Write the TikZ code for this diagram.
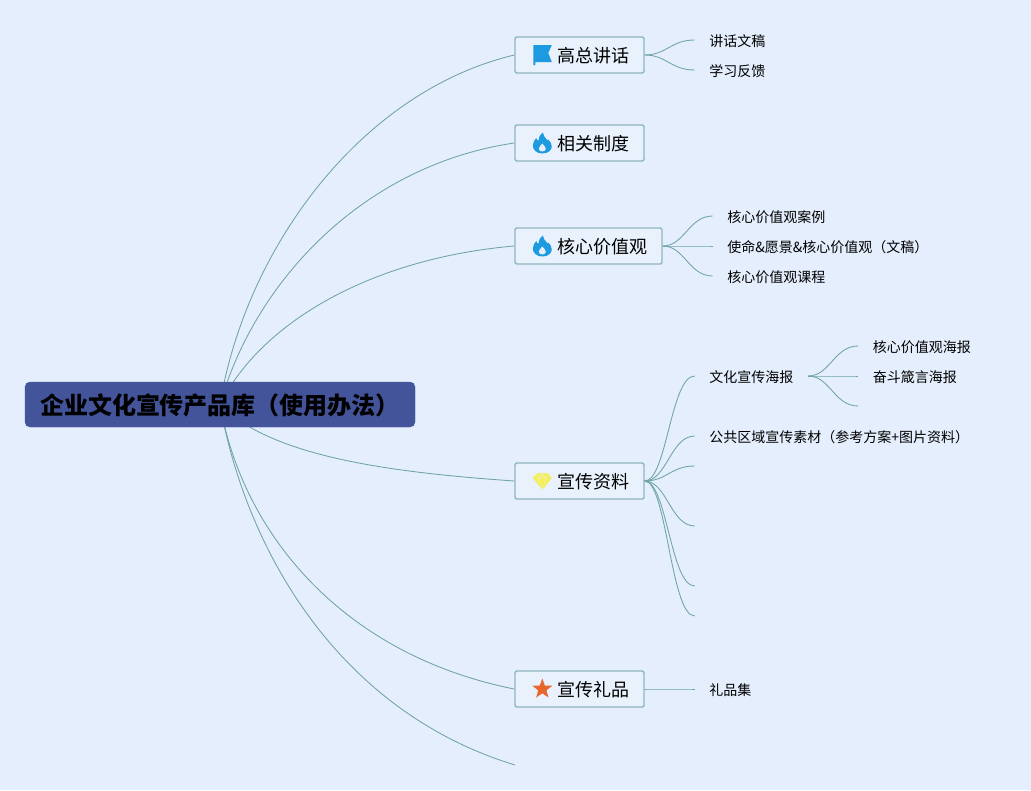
\documentclass[tikz,border=0pt]{standalone}
\usepackage{fontspec}
\setmainfont{Noto Sans CJK SC}
\usetikzlibrary{trees}
\definecolor{paper}{HTML}{E4EEFC}
\definecolor{boxfill}{HTML}{E9F1FD}
\definecolor{boxline}{HTML}{8FB6BF}
\definecolor{linkline}{HTML}{6FA3A6}
\definecolor{rootfill}{HTML}{43549B}
\definecolor{iconblue}{HTML}{1E9BE0}
\definecolor{iconyellow}{HTML}{F5EE55}
\definecolor{iconorange}{HTML}{E8652E}
\pgfdeclarelayer{paperlayer}
\pgfdeclarelayer{linklayer}
\pgfsetlayers{paperlayer,linklayer,main}
\tikzset{
  rootbox/.style={fill=rootfill, draw=rootfill, rounded corners=5pt, minimum height=45pt, inner xsep=15pt, inner ysep=0pt, text height=24.2pt, text depth=4pt, font=\fontsize{24}{24}\selectfont\bfseries, text=black},
  branchbox/.style={fill=boxfill, draw=boxline, line width=1.4pt, rounded corners=2pt, minimum height=36pt, inner xsep=15pt, inner ysep=0pt, text height=18.7pt, text depth=3pt, font=\fontsize{18}{18}\selectfont, text=black},
  leaftext/.style={inner xsep=14.5pt, inner ysep=0pt, text height=14.6pt, text depth=2pt, font=\fontsize{14}{14}\selectfont, text=black},
  rootlink/.style={draw=linkline, line width=0.85pt},
  flagicon/.pic={\fill[iconblue] (-9,-10) -- (9.5,-10) -- (6,-2) -- (9.5,7) -- (-7,7) -- (-7,10) -- (-9,10) -- cycle;},
  flameicon/.pic={
    \fill[iconblue] (0,10.5) .. controls (-6,10.5) and (-9.5,6.5) .. (-9.5,2.5) .. controls (-9.5,-1) and (-7.5,-3) .. (-6,-5) .. controls (-5.5,-3.5) and (-5,-2.5) .. (-4,-2) .. controls (-4,-5) and (-2.5,-8) .. (0.5,-10.5) .. controls (1,-7) and (3,-5) .. (5,-3) .. controls (5.5,-2.5) and (6,-2) .. (6,-3.5) .. controls (8,-1.5) and (9.5,1) .. (9.5,3.5) .. controls (9.5,7) and (6,10.5) .. (0,10.5) -- cycle;
    \fill[paper] (0,8.5) .. controls (-2.5,8.5) and (-3.5,7) .. (-3.5,5.5) .. controls (-3.5,3.5) and (-1,2.5) .. (0,0.5) .. controls (1,2.5) and (3.5,3.5) .. (3.5,5.5) .. controls (3.5,7) and (2.5,8.5) .. (0,8.5) -- cycle;},
  gemicon/.pic={
    \fill[iconyellow] (-5,-8) -- (5,-8) -- (9.5,-3) -- (0,9) -- (-9.5,-3) -- cycle;
    \draw[boxfill, line width=0.3pt] (-9.5,-3) -- (9.5,-3) (-4,-3) -- (0,9) -- (4,-3) (-5,-8) -- (-2,-3) -- (0,-8) -- (2,-3) -- (5,-8);},
  staricon/.pic={\fill[iconorange] (90:-10.5) -- (54:-4.3) -- (18:-10.5) -- (-18:-4.3) -- (-54:-10.5) -- (-90:-4.3) -- (-126:-10.5) -- (-162:-4.3) -- (-198:-10.5) -- (-234:-4.3) -- cycle;}
}
\begin{document}
\begin{tikzpicture}[x=1pt, y=-1pt, grow'=right, level distance=50pt, sibling distance=30pt,
    growth parent anchor=east, every child node/.style={anchor=west, leaftext},
    edge from parent/.style={draw=linkline, line width=0.85pt},
    edge from parent path={(\tikzparentnode.east) .. controls +(22,0) and +(-24,0) .. (\tikzchildnode.180)}]
  \begin{pgfonlayer}{paperlayer}
    \fill[paper] (0,0) rectangle (1031,790);
  \end{pgfonlayer}
  \useasboundingbox (0,0) rectangle (1031,790);

  \node[rootbox] (root) at (220,404.5) {企业文化宣传产品库（使用办法）};

  \node[branchbox] (speech) at (579.5,55) {\hspace{27pt}高总讲话}
    child {node {讲话文稿}}
    child {node {学习反馈}};
  \node[branchbox] (rules) at (579.5,143) {\hspace{27pt}相关制度};
  \node[branchbox] (values) at (588.5,246) {\hspace{27pt}核心价值观}
    child {node {核心价值观案例}}
    child {node {使命\&愿景\&核心价值观（文稿）}}
    child {node {核心价值观课程}};
  \node[branchbox] (promo) at (579.5,481) {\hspace{27pt}宣传资料}
    child[missing] {}
    child {node (poster) {文化宣传海报}
      child {node {核心价值观海报}}
      child {node {奋斗箴言海报}}
      child {coordinate (posterend)}
    }
    child[missing] {}
    child {node {公共区域宣传素材（参考方案+图片资料）}}
    child {coordinate (promoa)}
    child[missing] {}
    child {coordinate (promob)}
    child[missing] {}
    child {coordinate (promoc)}
    child {coordinate (promod)};
  \node[branchbox] (gift) at (579.5,689) {\hspace{27pt}宣传礼品}
    child {node {礼品集}};
  \coordinate (lastend) at (515,765);

  % icons
  \pic at ([xshift=28pt]speech.west) {flagicon};
  \pic at ([xshift=28pt]rules.west) {flameicon};
  \pic at ([xshift=28pt]values.west) {flameicon};
  \pic at ([xshift=28pt]promo.west) {gemicon};
  \pic at ([xshift=28pt]gift.west) {staricon};

  \begin{pgfonlayer}{linklayer}
    \draw[rootlink] (root.center) .. controls +(25,-154) and +(-155,37) .. (speech.west);
    \draw[rootlink] (root.center) .. controls +(35,-124) and +(-150,22) .. (rules.west);
    \draw[rootlink] (root.center) .. controls +(42,-84) and +(-140,12) .. (values.west);
    \draw[rootlink] (root.center) .. controls +(50,51) and +(-130,-9) .. (promo.west);
    \draw[rootlink] (root.center) .. controls +(23,131) and +(-170,-34) .. (gift.west);
    \draw[rootlink] (root.center) .. controls +(25,141) and +(-180,-55) .. (lastend);
  \end{pgfonlayer}
\end{tikzpicture}
\end{document}
